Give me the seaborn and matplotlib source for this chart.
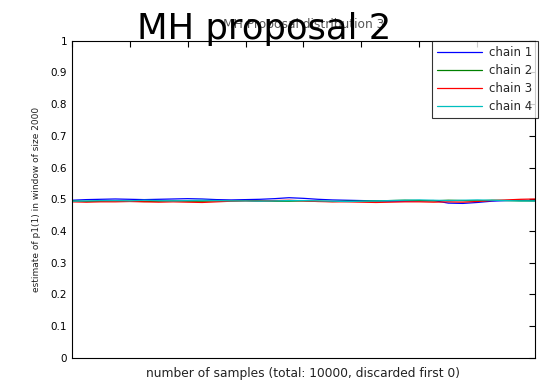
import numpy as np
import pandas as pd
import matplotlib
matplotlib.use("Agg")
import matplotlib.pyplot as plt
import seaborn as sns

# window positions (samples)
x = list(range(0, 8001, 250))

chain1 = [0.497, 0.499, 0.500, 0.501, 0.500, 0.499, 0.500, 0.501, 0.502, 0.501,
          0.499, 0.498, 0.499, 0.500, 0.502, 0.505, 0.503, 0.500, 0.498, 0.497,
          0.496, 0.495, 0.494, 0.494, 0.495, 0.496, 0.488, 0.487, 0.490, 0.494,
          0.496, 0.497, 0.496]
chain2 = [0.495, 0.493, 0.494, 0.495, 0.494, 0.493, 0.494, 0.495, 0.494, 0.494,
          0.495, 0.495, 0.496, 0.495, 0.494, 0.494, 0.495, 0.494, 0.493, 0.494,
          0.494, 0.495, 0.496, 0.497, 0.496, 0.495, 0.497, 0.496, 0.495, 0.497,
          0.496, 0.495, 0.495]
chain3 = [0.492, 0.491, 0.492, 0.492, 0.493, 0.492, 0.491, 0.492, 0.491, 0.490,
          0.492, 0.494, 0.495, 0.494, 0.496, 0.497, 0.495, 0.493, 0.492, 0.492,
          0.491, 0.490, 0.491, 0.492, 0.492, 0.491, 0.492, 0.491, 0.493, 0.496,
          0.498, 0.500, 0.501]
chain4 = [0.494, 0.495, 0.496, 0.496, 0.495, 0.497, 0.496, 0.495, 0.496, 0.497,
          0.496, 0.495, 0.495, 0.494, 0.495, 0.496, 0.496, 0.495, 0.494, 0.493,
          0.494, 0.495, 0.496, 0.497, 0.498, 0.497, 0.496, 0.497, 0.498, 0.497,
          0.496, 0.495, 0.495]

chains = ["chain 1", "chain 2", "chain 3", "chain 4"]
colors = ["#0000ff", "#008000", "#ff0000", "#00bfbf"]

df = pd.concat([
    pd.DataFrame({"x": x, "y": v, "chain": c})
    for c, v in zip(chains, [chain1, chain2, chain3, chain4])
])

sns.set_style("white")
plt.rcParams['font.family'] = ['DejaVu Sans']

fig = plt.figure(figsize=(5.4, 3.84), dpi=100)
ax = fig.add_axes([0.133, 0.068, 0.858, 0.826])

sns.lineplot(data=df, x="x", y="y", hue="chain", palette=colors,
             linewidth=0.9, ax=ax)

ax.set_xlim(0, 8000)
ax.set_ylim(0, 1)
ax.set_xticks(range(0, 8001, 1000))
ax.set_xticklabels([])
ax.set_yticks([i / 10 for i in range(11)])
ax.set_yticklabels(["0", "0.1", "0.2", "0.3", "0.4", "0.5", "0.6", "0.7", "0.8", "0.9", "1"])
ax.tick_params(direction="in", length=4, width=0.8, labelsize=7.5,
               top=True, right=True, colors="black")
for s in ax.spines.values():
    s.set_color("black")
    s.set_linewidth(0.8)

ax.set_xlabel("number of samples (total: 10000, discarded first 0)", fontsize=8.8,
              labelpad=3, color="#222222")
ax.set_ylabel("estimate of p1(1) in window of size 2000", fontsize=6.5,
              labelpad=7, color="#222222")
ax.set_title("MH Proposal distribution 3", fontsize=8.8, color="#555555", pad=9)

fig.text(0.49, 0.898, "MH proposal 2", fontsize=25.5, ha="center", va="baseline",
         color="black")

leg = ax.legend(loc="upper right", bbox_to_anchor=(1.006, 1.0), fontsize=8.5,
                frameon=True, fancybox=False, edgecolor="black", handlelength=3.8,
                borderaxespad=0.0, labelspacing=0.42, borderpad=0.45,
                handletextpad=0.6)
leg.get_frame().set_linewidth(0.8)
leg.set_title(None)

fig.savefig("out.png", dpi=100)
